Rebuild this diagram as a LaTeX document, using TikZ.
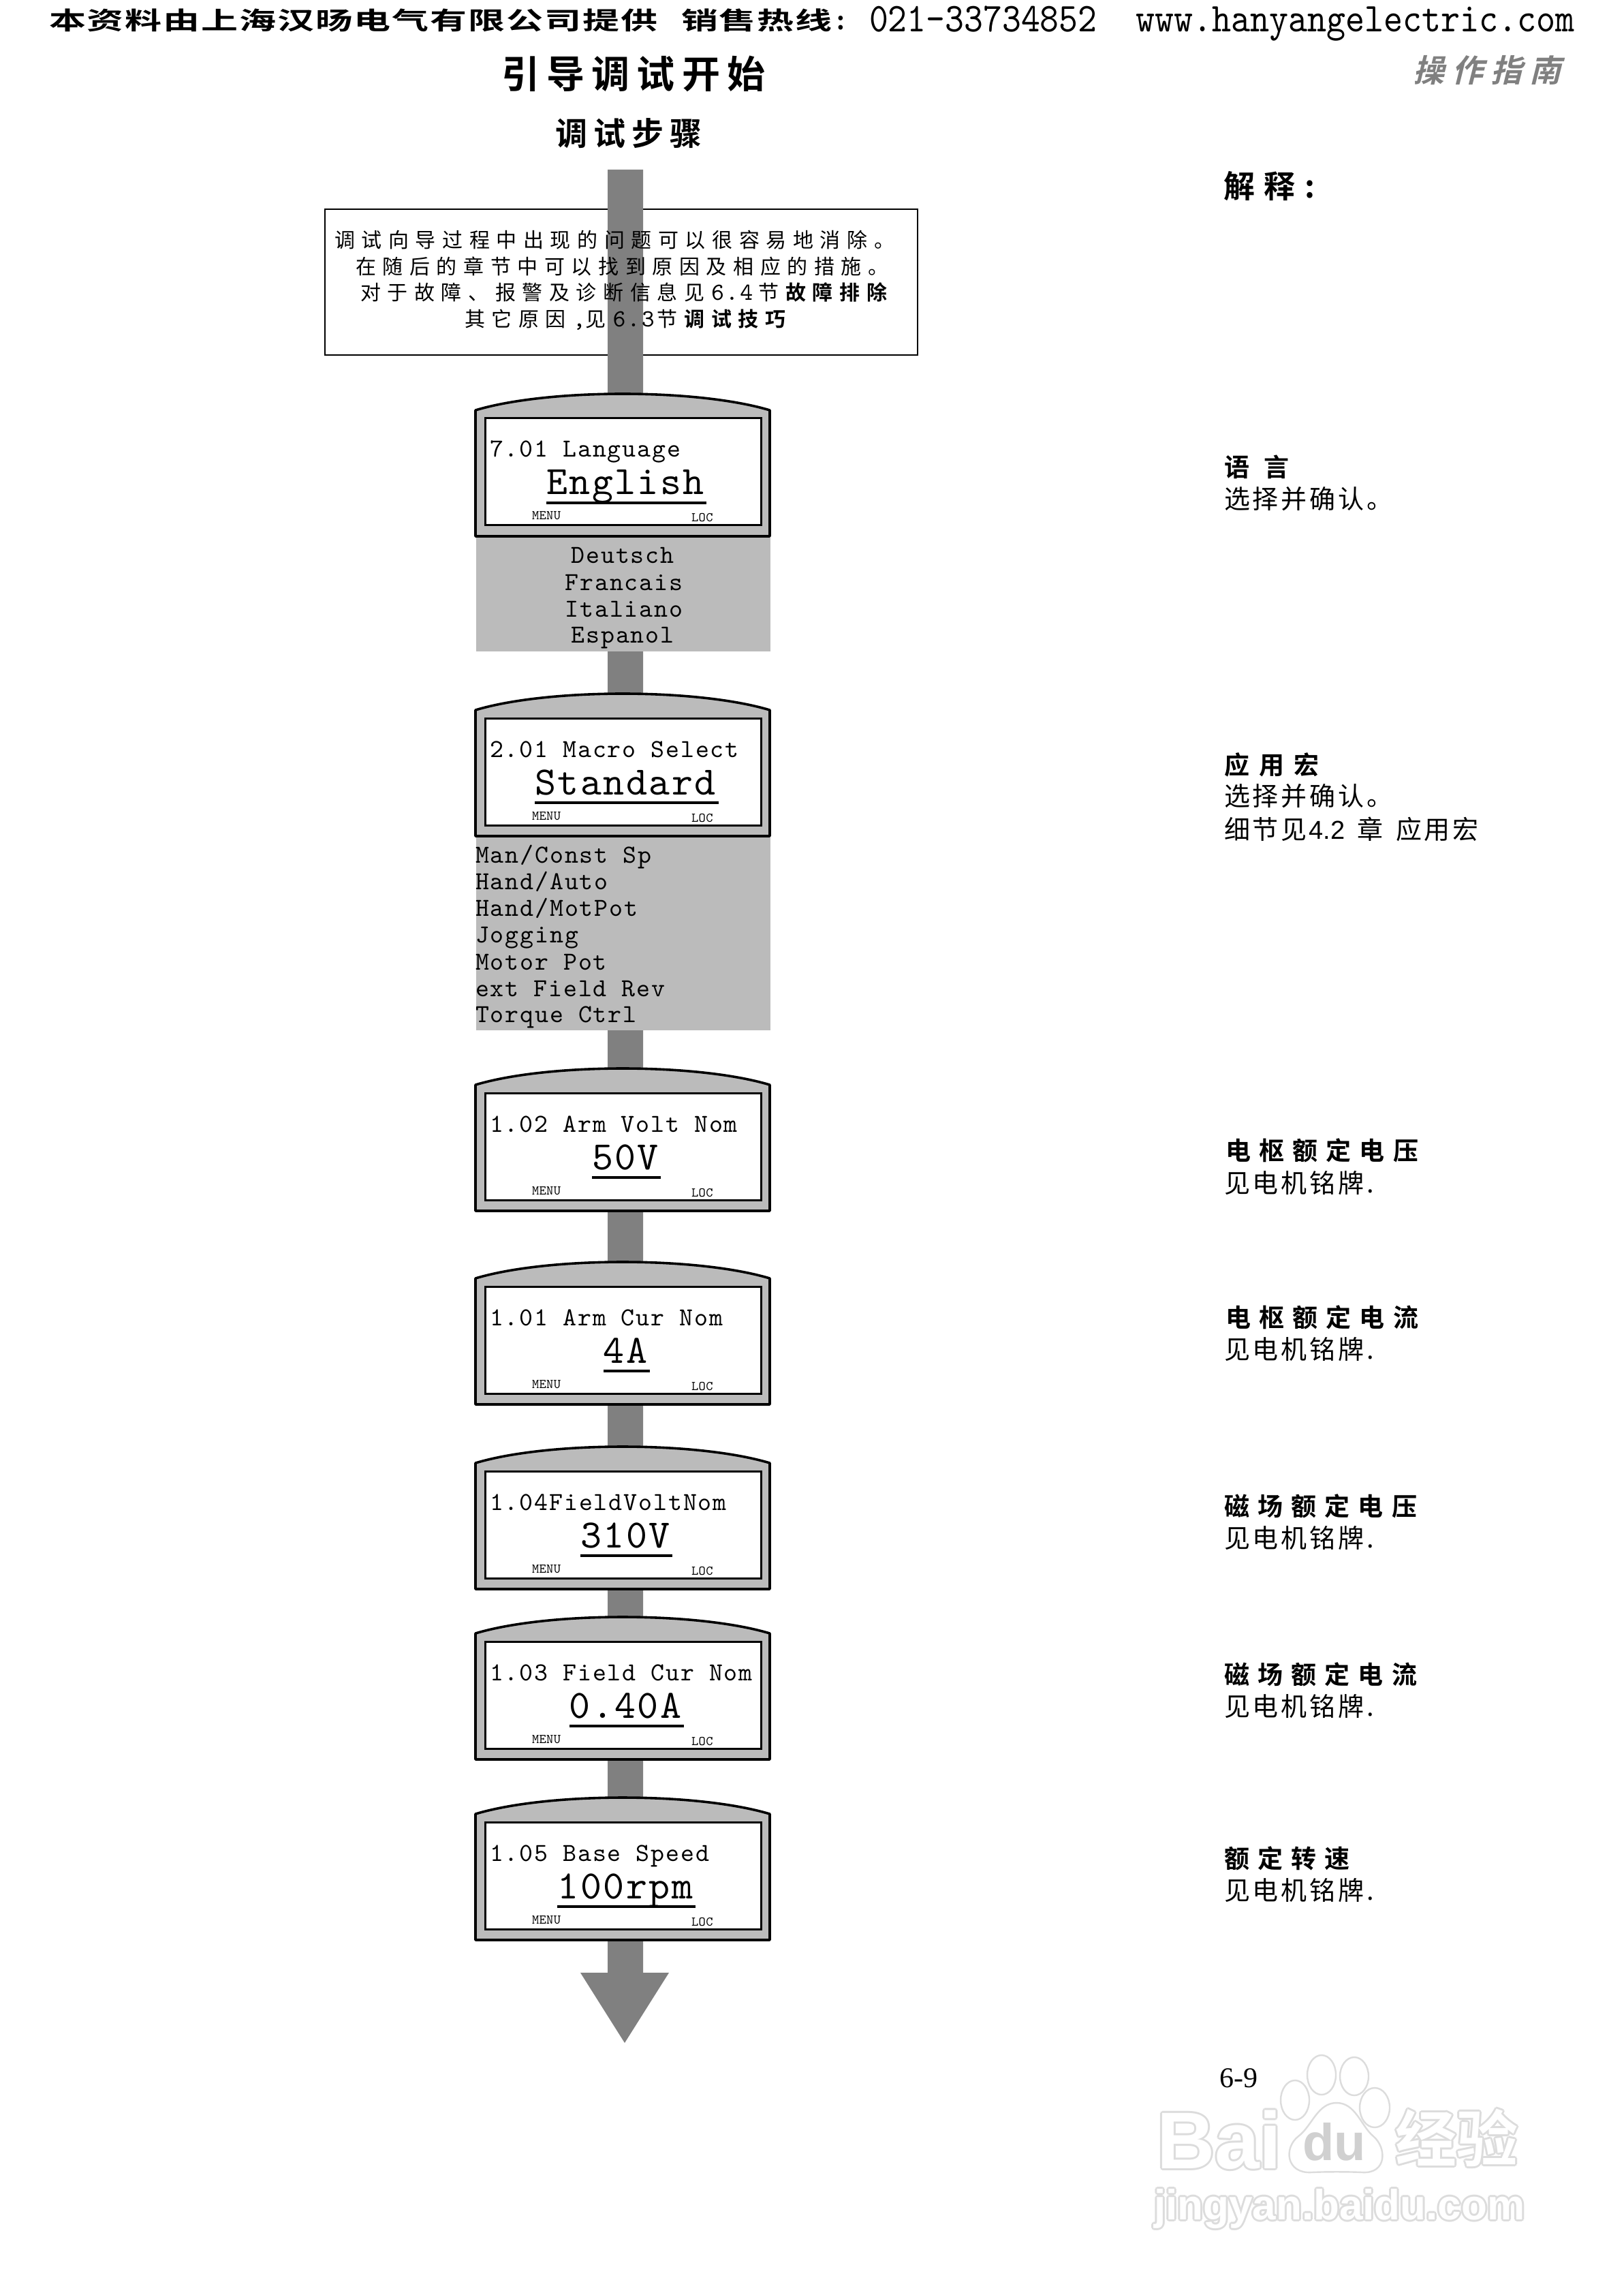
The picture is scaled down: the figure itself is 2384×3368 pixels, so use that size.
\documentclass[tikz,border=0pt]{standalone}
\usepackage{fontspec}
\usepackage{graphicx}
\newfontfamily\cjk{Noto Sans CJK SC}
\newfontfamily\cjkb{Noto Sans CJK SC Bold}
\newfontfamily\cjkit{Noto Sans CJK SC Bold}[FakeSlant=0.25]
\newfontfamily\lcdf{lmmono10-regular}[Extension=.otf]
\newfontfamily\lsans{Liberation Sans}
\newfontfamily\lsansb{Liberation Sans Bold}
\newfontfamily\lserif{Liberation Serif}
\newcommand\fs[1]{\fontsize{\fpeval{#1*0.25}pt}{\fpeval{#1*0.3}pt}\selectfont}
% font switches: size in reference pixels, letter spacing in percent
\newcommand\cn[2]{\cjk\addfontfeature{LetterSpace=#2}\fs{#1}}
\newcommand\cnb[2]{\cjkb\addfontfeature{LetterSpace=#2}\fs{#1}}
\newcommand\mono[2]{\lcdf\addfontfeature{LetterSpace=#2}\fs{#1}}
\newcommand\gap[1]{\kern\fpeval{#1*0.25}pt\relax}
\definecolor{shaftgray}{HTML}{808080}
\definecolor{panelgray}{HTML}{BBBBBB}
\definecolor{wmline}{HTML}{DCDCDC}
\definecolor{wmdark}{HTML}{D0D0D0}
\tikzset{
  txt/.style={inner sep=0pt,outer sep=0pt,anchor=base west},
  ctxt/.style={inner sep=0pt,outer sep=0pt,anchor=base},
  shell/.style={draw=black,fill=panelgray,line width=0.9pt,line join=round},
  screen/.style={draw=black,fill=white,line width=0.75pt},
  rule/.style={draw=black,line width=1pt},
  block/.style={fill=panelgray,draw=none},
  note/.style={draw=black,line width=0.6pt},
  shaft/.style={fill=shaftgray,draw=none},
  head/.style={txt,font=\cnb{37}{33}},
  body/.style={txt,font=\cn{38}{10}},
  para/.style={txt,font=\cn{30}{32}},
  ltitle/.style={txt,font=\mono{38}{5}},
  lvalue/.style={ctxt,font=\mono{59}{4.2}},
  lsmall/.style={txt,font=\mono{19.5}{2}},
  lopt/.style={txt,font=\mono{38}{5}},
  copt/.style={ctxt,font=\mono{38}{5}},
  wmpad/.style={draw=wmline,fill=white,line width=0.6pt},
}
% one keypad display: name, top y, title, value, rule left x, rule right x
\newcommand\lcdisp[6]{%
  \path[shell] (698,#2+24) .. controls (805,#2-8) and (1023,#2-8) .. (1130,#2+24)
     -- (1130,#2+209) -- (698,#2+209) -- cycle;
  \path[screen] (712,#2+36) rectangle (1117,#2+193);
  \node[ltitle] (#1t) at (719,#2+93) {#3};
  \node[lvalue] (#1v) at (918,#2+148) {#4};
  \draw[rule] (#5,#2+160) -- (#6,#2+160);
  \node[lsmall] (#1m) at (781,#2+185) {MENU};
  \node[lsmall] (#1l) at (1015,#2+188) {LOC};
}
% watermark glyphs: pale outline made by offset copies, white on top
\newcommand\halo[5]{%
  \foreach \dx/\dy in {-3/0,3/0,0/-3,0/3,-2/-2,2/-2,-2/2,2/2}
    \node[txt,font=#4,text=wmline] at (#2+\dx,#3+\dy) {#5};
  \node[txt,font=#4,text=white] (#1) at (#2,#3) {#5};
}
\begin{document}
\begin{tikzpicture}[x=0.25pt,y=-0.25pt]
\path[use as bounding box,fill=white] (0,0) rectangle (2384,3368);

% page header
\node[txt] (hdA) at (72,44) {\scalebox{1.5}[1]{\cnb{36}{3.7}本资料由上海汉旸电气有限公司提供}};
\node[txt] (hdB) at (1000,44) {\scalebox{1.5}[1]{\cnb{36}{3.5}销售热线}};
\node[txt] (hdC) at (1228,44) {\cnb{36}{0}:};
\node[txt] (hdD) at (1276,47) {\scalebox{0.885}[1]{\mono{60}{0}021-33734852}};
\node[txt] (hdE) at (1667,47) {\scalebox{0.89}[1]{\mono{60}{0}www.hanyangelectric.com}};
\node[txt,text=shaftgray] (guide) at (2074,121) {\cjkit\addfontfeature{LetterSpace=24}\fs{46}操作指南};

% titles
\node[ctxt] (title) at (930,130) {\cnb{56}{18}引导调试开始};
\node[ctxt] (steps) at (923,214) {\cnb{47}{19}调试步骤};
\node[txt] (expl) at (1796,291) {\cnb{46}{30}解释:};

% note box behind the arrow
\path[note] (477,307) rectangle (1347,521);
\coordinate (aTL) at (892,249);
\coordinate (aTR) at (944,249);
\coordinate (aBR) at (944,2895);
\coordinate (aWR) at (982,2895);
\coordinate (aTip) at (917,2998);
\coordinate (aWL) at (852,2895);
\coordinate (aBL) at (892,2895);
\path[shaft] (aTL) -- (aTR) -- (aBR) -- (aWR) -- (aTip) -- (aWL) -- (aBL) -- cycle;

\node[para] (n1) at (491,364) {调试向导过程中出现的问题可以很容易地消除。};
\node[para] (n2) at (522,403) {在随后的章节中可以找到原因及相应的措施。};
\node[para] (n3) at (529,441) {对于故障、报警及诊断信息见\gap{10}{\mono{36}{6}6.4}\gap{8}节\gap{10}{\cnb{30}{32}故障排除}};
\node[para] (n4) at (682,480) {其它原因\gap{10}{\mono{36}{6},}见\gap{10}{\mono{36}{6}6.3}\gap{4}节\gap{10}{\cnb{30}{32}调试技巧}};

% option blocks
\path[block] (699,789) rectangle (1131,956);
\path[block] (699,1229) rectangle (1131,1512);

% displays
\lcdisp{d1}{578}{7.01 Language}{English}{802}{1037}
\lcdisp{d2}{1018}{2.01 Macro Select}{Standard}{785}{1055}
\lcdisp{d3}{1568}{1.02 Arm Volt Nom}{50V}{869}{970}
\lcdisp{d4}{1852}{1.01 Arm Cur Nom}{4A}{886}{954}
\lcdisp{d5}{2123}{1.04FieldVoltNom}{310V}{852}{987}
\lcdisp{d6}{2373}{1.03 Field Cur Nom}{0.40A}{836}{1004}
\lcdisp{d7}{2638}{1.05 Base Speed}{100rpm}{818}{1021}

% option lists
\node[copt] (o1) at (914,827) {Deutsch};
\node[copt] (o2) at (916,867) {Francais};
\node[copt] (o3) at (916,905) {Italiano};
\node[copt] (o4) at (914,944) {Espanol};
\node[lopt] (m1) at (698,1266) {Man/Const Sp};
\node[lopt] (m2) at (698,1305) {Hand/Auto};
\node[lopt] (m3) at (698,1344) {Hand/MotPot};
\node[lopt] (m4) at (698,1383) {Jogging};
\node[lopt] (m5) at (698,1423) {Motor Pot};
\node[lopt] (m6) at (698,1462) {ext Field Rev};
\node[lopt] (m7) at (698,1500) {Torque Ctrl};

% explanations
\node[head,font=\cnb{37}{58}] (e1a) at (1797,700) {语言};
\node[body] (e1b) at (1797,747) {选择并确认。};
\node[head,font=\cnb{37}{38}] (e2a) at (1797,1136) {应用宏};
\node[body] (e2b) at (1797,1182) {选择并确认。};
\node[body] (e2c) at (1797,1231) {细节见\gap{3}{\lsans\fs{38}4.2}\gap{6} 章 \gap{6}应用宏};
\node[head] (e3a) at (1799,1702) {电枢额定电压};
\node[body] (e3b) at (1797,1750) {见电机铭牌.};
\node[head] (e4a) at (1799,1947) {电枢额定电流};
\node[body] (e4b) at (1797,1994) {见电机铭牌.};
\node[head] (e5a) at (1797,2224) {磁场额定电压};
\node[body] (e5b) at (1797,2271) {见电机铭牌.};
\node[head] (e6a) at (1797,2471) {磁场额定电流};
\node[body] (e6b) at (1797,2518) {见电机铭牌.};
\node[head] (e7a) at (1797,2741) {额定转速};
\node[body] (e7b) at (1797,2788) {见电机铭牌.};

% page number
\node[txt] (pg) at (1790,3063) {\lserif\fs{42}6-9};

% watermark
\halo{wmBai}{1698}{3182}{\lsansb\fs{118}}{Bai}
\halo{wmJing}{2048}{3172}{\cjkb\fs{90}}{经验}
\halo{wmUrl}{1694}{3257}{\lsansb\fs{62}}{jingyan.baidu.com}
\path[wmpad] (1962,3086) .. controls (1990,3086) and (1998,3120) .. (2016,3135)
   .. controls (2036,3152) and (2036,3190) .. (2000,3188)
   .. controls (1980,3187) and (1944,3187) .. (1925,3188)
   .. controls (1888,3190) and (1884,3152) .. (1906,3135)
   .. controls (1926,3120) and (1934,3086) .. (1962,3086) -- cycle;
\path[wmpad] (1901,3082) ellipse [x radius=21,y radius=29];
\path[wmpad] (1940,3045) ellipse [x radius=21,y radius=29];
\path[wmpad] (1988,3047) ellipse [x radius=21,y radius=28];
\path[wmpad] (2018,3093) ellipse [x radius=22,y radius=29];
\node[txt,text=wmdark] (wmDu) at (1912,3170) {\lsansb\fs{76}du};
\end{tikzpicture}
\end{document}
